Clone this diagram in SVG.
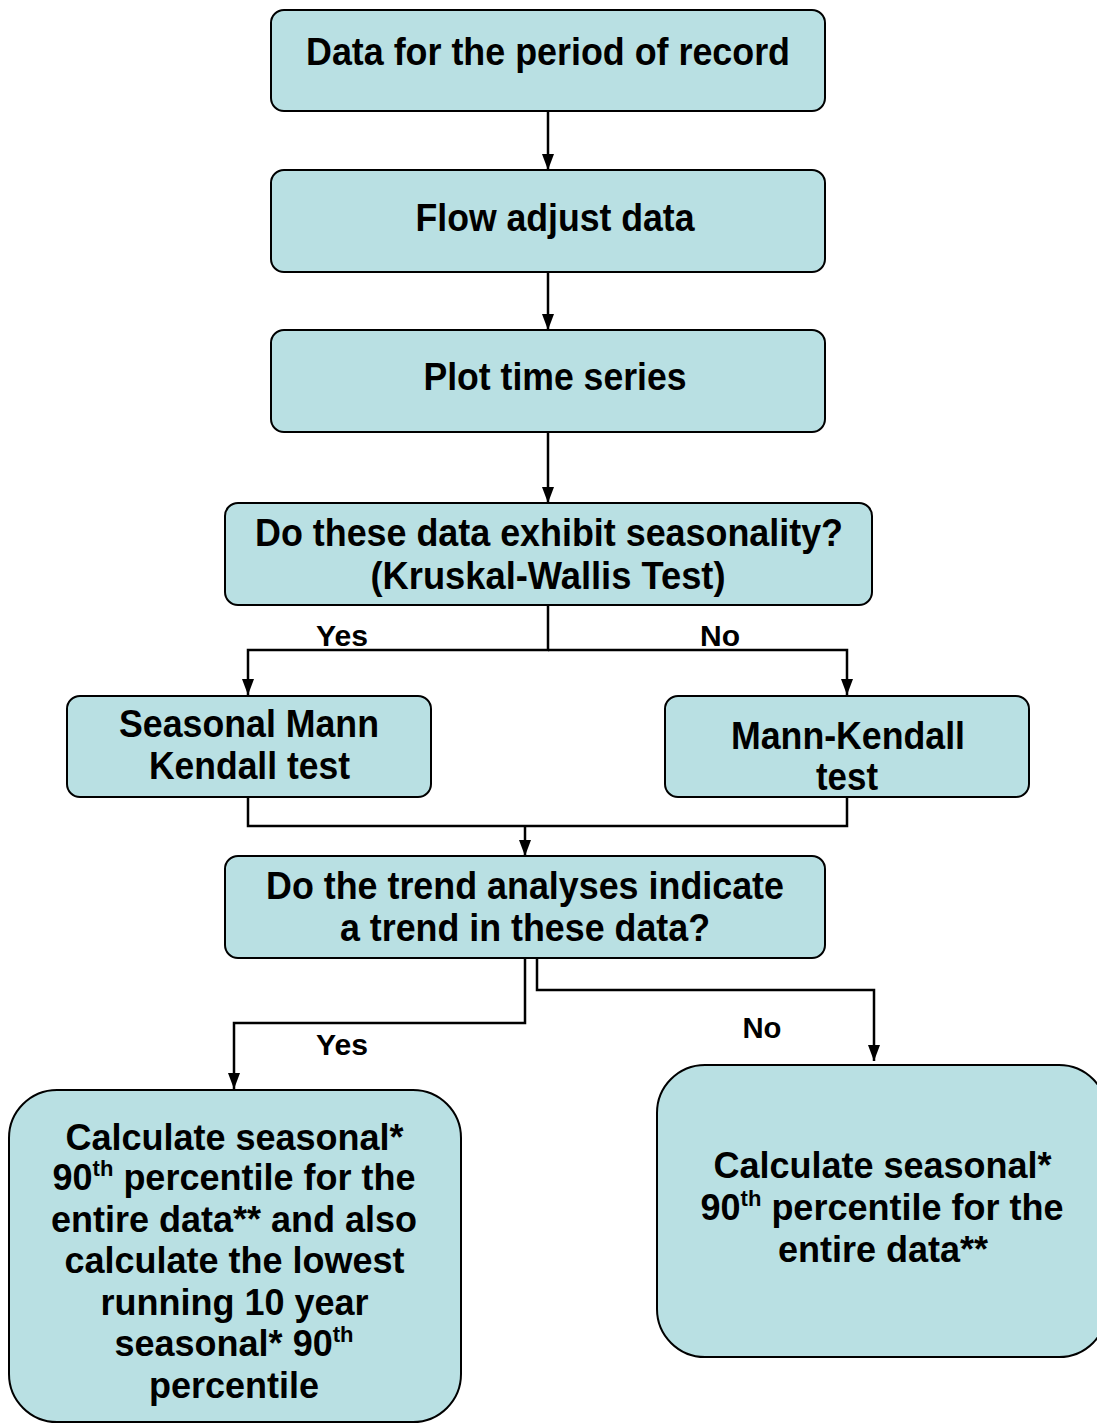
<svg xmlns="http://www.w3.org/2000/svg" width="1097" height="1423" viewBox="0 0 1097 1423">
<style>
.box{fill:#B9E0E3;stroke:#000;stroke-width:2}
.t{font-family:"Liberation Sans Narrow","Liberation Sans",Arial,sans-serif;font-weight:bold;font-size:38px;fill:#000;text-anchor:middle}
.b{font-family:"Liberation Sans",Arial,sans-serif;font-weight:bold;font-size:36px;fill:#000;text-anchor:middle}
.sup{font-size:22px}
.c{fill:none;stroke:#000;stroke-width:2.5}
</style>
<defs>
<marker id="ah" viewBox="0 0 16 12" refX="16" refY="6" markerWidth="16" markerHeight="12" markerUnits="userSpaceOnUse" orient="auto">
<path d="M0,0 L16,6 L0,12 Z" fill="#000"/>
</marker>
</defs>
<rect width="1097" height="1423" fill="#fff"/>
<g id="connectors">
<path class="c" d="M548,111 V170" marker-end="url(#ah)"/>
<path class="c" d="M548,272 V330" marker-end="url(#ah)"/>
<path class="c" d="M548,432 V503" marker-end="url(#ah)"/>
<path class="c" d="M548,605 V650 H248 V695" marker-end="url(#ah)"/>
<path class="c" d="M548,650 H847 V695" marker-end="url(#ah)"/>
<path class="c" d="M248,797 V826 H847 V797"/>
<path class="c" d="M525,826 V856" marker-end="url(#ah)"/>
<path class="c" d="M525,958 V1023 H234 V1089" marker-end="url(#ah)"/>
<path class="c" d="M537,958 V990 H874 V1061" marker-end="url(#ah)"/>
<text class="t" x="342" y="646" textLength="52" lengthAdjust="spacingAndGlyphs" style="font-size:30px">Yes</text>
<text class="t" x="720" y="646" textLength="40" lengthAdjust="spacingAndGlyphs" style="font-size:30px">No</text>
<text class="t" x="342" y="1055" textLength="52" lengthAdjust="spacingAndGlyphs" style="font-size:30px">Yes</text>
<text class="t" x="762" y="1038" textLength="39" lengthAdjust="spacingAndGlyphs" style="font-size:30px">No</text>
</g>
<g id="n1">
<rect class="box" x="271" y="10" width="554" height="101" rx="13"/>
<text class="t" x="548" y="65" textLength="484" lengthAdjust="spacingAndGlyphs">Data for the period of record</text>
</g>
<g id="n2">
<rect class="box" x="271" y="170" width="554" height="102" rx="13"/>
<text class="t" x="555" y="231" textLength="279" lengthAdjust="spacingAndGlyphs">Flow adjust data</text>
</g>
<g id="n3">
<rect class="box" x="271" y="330" width="554" height="102" rx="13"/>
<text class="t" x="555" y="390" textLength="263" lengthAdjust="spacingAndGlyphs">Plot time series</text>
</g>
<g id="n4">
<rect class="box" x="225" y="503" width="647" height="102" rx="13"/>
<text class="t" x="549" y="546" textLength="588" lengthAdjust="spacingAndGlyphs">Do these data exhibit seasonality?</text>
<text class="t" x="548" y="589" textLength="355" lengthAdjust="spacingAndGlyphs">(Kruskal-Wallis Test)</text>
</g>
<g id="n5">
<rect class="box" x="67" y="696" width="364" height="101" rx="13"/>
<text class="t" x="249" y="737" textLength="260" lengthAdjust="spacingAndGlyphs">Seasonal Mann</text>
<text class="t" x="249.5" y="779" textLength="201" lengthAdjust="spacingAndGlyphs">Kendall test</text>
</g>
<g id="n6">
<rect class="box" x="665" y="696" width="364" height="101" rx="13"/>
<text class="t" x="848" y="749" textLength="234" lengthAdjust="spacingAndGlyphs">Mann-Kendall</text>
<text class="t" x="847" y="790" textLength="62" lengthAdjust="spacingAndGlyphs">test</text>
</g>
<g id="n7">
<rect class="box" x="225" y="856" width="600" height="102" rx="13"/>
<text class="t" x="525" y="899" textLength="518" lengthAdjust="spacingAndGlyphs">Do the trend analyses indicate</text>
<text class="t" x="525" y="941" textLength="370" lengthAdjust="spacingAndGlyphs">a trend in these data?</text>
</g>
<g id="n8">
<rect class="box" x="9" y="1090" width="452" height="332" rx="48"/>
<text class="b" x="234.5" y="1150">Calculate seasonal*</text>
<text class="b" x="234" y="1190">90<tspan class="sup" dy="-14">th</tspan><tspan dy="14"> percentile for the</tspan></text>
<text class="b" x="234" y="1232">entire data** and also</text>
<text class="b" x="234.5" y="1273">calculate the lowest</text>
<text class="b" x="234.5" y="1315">running 10 year</text>
<text class="b" x="234" y="1356">seasonal* 90<tspan class="sup" dy="-14">th</tspan></text>
<text class="b" x="234" y="1398">percentile</text>
</g>
<g id="n9">
<rect class="box" x="657" y="1065" width="450" height="292" rx="48"/>
<text class="b" x="882.5" y="1178">Calculate seasonal*</text>
<text class="b" x="882" y="1220">90<tspan class="sup" dy="-14">th</tspan><tspan dy="14"> percentile for the</tspan></text>
<text class="b" x="883" y="1262">entire data**</text>
</g>
</svg>
